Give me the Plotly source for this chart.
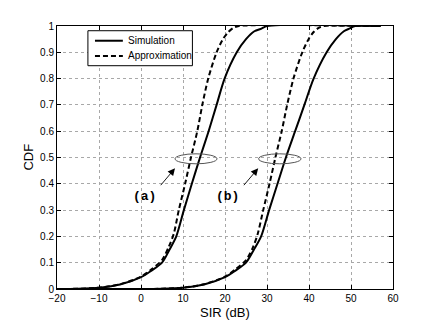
import plotly.graph_objects as go

# SIR (dB) vs CDF
sim_a_x = [-20, -15, -10, -5, 0, 2.5, 5, 6.8, 8.4, 10.2, 12.1, 14.05, 16.1, 18.0, 19.9, 22.8, 25.0, 27.0, 28.7, 30.0, 57]
sim_a_y = [0, 0.001, 0.005, 0.017, 0.045, 0.07, 0.10, 0.15, 0.20, 0.30, 0.40, 0.50, 0.60, 0.70, 0.80, 0.90, 0.95, 0.98, 0.99, 1.0, 1.0]

app_a_x = [-20, -15, -10, -5, 0, 2.5, 5, 6.6, 7.8, 9.0, 10.5, 11.9, 13.4, 14.6, 16.0, 18.0, 19.5, 20.8, 22.0, 23.3, 57]
app_a_y = [0, 0.001, 0.005, 0.018, 0.047, 0.075, 0.11, 0.16, 0.21, 0.30, 0.40, 0.50, 0.60, 0.70, 0.80, 0.90, 0.95, 0.977, 0.993, 1.0, 1.0]

sim_b_x = [-20, 0, 5, 10, 15, 20, 22.5, 25, 26.9, 28.6, 30.5, 32.5, 34.5, 36.7, 38.9, 41.1, 44.2, 46.4, 48.3, 49.6, 51, 57]
sim_b_y = [0, 0, 0.001, 0.005, 0.017, 0.045, 0.07, 0.10, 0.15, 0.20, 0.30, 0.40, 0.50, 0.60, 0.70, 0.80, 0.90, 0.95, 0.98, 0.99, 1.0, 1.0]

app_b_x = [-20, 0, 5, 10, 15, 20, 22.5, 25, 26.7, 27.8, 29.1, 30.6, 32.0, 33.5, 34.8, 36.3, 38.4, 39.9, 41.1, 42.3, 43.5, 57]
app_b_y = [0, 0, 0.001, 0.005, 0.018, 0.047, 0.075, 0.11, 0.16, 0.21, 0.30, 0.40, 0.50, 0.60, 0.70, 0.80, 0.90, 0.95, 0.977, 0.993, 1.0, 1.0]

x_ticks = [-20, -10, 0, 10, 20, 30, 40, 50, 60]
x_tick_text = ['\u221220', '\u221210', '0', '10', '20', '30', '40', '50', '60']
y_ticks = [0, 0.1, 0.2, 0.3, 0.4, 0.5, 0.6, 0.7, 0.8, 0.9, 1]
y_tick_text = ['0', '0.1', '0.2', '0.3', '0.4', '0.5', '0.6', '0.7', '0.8', '0.9', '1']

legend_names = ['Simulation', 'Approximation']

# ellipse marks and labels
ellipses = [(8.1, 18.1, 0.476, 0.514), (28.0, 38.1, 0.476, 0.514)]
labels = ['(a)', '(b)']
label_pos = [(0.8, 0.35), (20.5, 0.35)]
arrow_tail = [(4.4, 0.389), (24.2, 0.389)]
arrow_head = [(8.1, 0.459), (27.9, 0.459)]

font = 'Liberation Sans, Arial, sans-serif'
dash = '5px,3px'

fig = go.Figure()

fig.add_trace(go.Scatter(x=sim_a_x, y=sim_a_y, mode='lines', name=legend_names[0],
                         line=dict(color='black', width=2, shape='spline', smoothing=0.8)))
fig.add_trace(go.Scatter(x=app_a_x, y=app_a_y, mode='lines', name=legend_names[1],
                         line=dict(color='black', width=2, dash=dash, shape='spline', smoothing=0.8)))
fig.add_trace(go.Scatter(x=sim_b_x, y=sim_b_y, mode='lines',
                         line=dict(color='black', width=2, shape='spline', smoothing=0.8)))
fig.add_trace(go.Scatter(x=app_b_x, y=app_b_y, mode='lines',
                         line=dict(color='black', width=2, dash=dash, shape='spline', smoothing=0.8)))

for (x0, x1, y0, y1) in ellipses:
    fig.add_shape(type='circle', xref='x', yref='y', x0=x0, x1=x1, y0=y0, y1=y1,
                  line=dict(color='#555555', width=1))

for txt, (tx, ty), (ax, ay), (hx, hy) in zip(labels, label_pos, arrow_tail, arrow_head):
    fig.add_annotation(x=tx, y=ty, text='<b>' + txt + '</b>', showarrow=False,
                       font=dict(family='Liberation Mono, Courier New, monospace', size=13, color='black'))
    fig.add_annotation(x=hx, y=hy, ax=ax, ay=ay, axref='x', ayref='y', text='',
                       showarrow=True, arrowhead=2, arrowsize=1.6, arrowwidth=0.9, arrowcolor='black')

# legend box drawn by hand (MATLAB style)
fig.add_shape(type='rect', xref='paper', yref='paper', x0=0.092, x1=0.403, y0=0.849, y1=0.982,
              line=dict(color='black', width=1), fillcolor='white', layer='above')
for i, name in enumerate(legend_names):
    yy = 0.944 - i * 0.058
    fig.add_shape(type='line', xref='paper', yref='paper', x0=0.113, x1=0.196, y0=yy, y1=yy,
                  line=dict(color='black', width=2, dash=None if i == 0 else dash), layer='above')
    fig.add_annotation(xref='paper', yref='paper', x=0.204, y=yy, text=name, showarrow=False,
                       xanchor='left', yanchor='middle', font=dict(family=font, size=10, color='black'))

# axis titles
fig.add_annotation(xref='paper', yref='paper', x=0.5, y=-0.088, text='SIR (dB)', showarrow=False,
                   xanchor='center', yanchor='middle', font=dict(family=font, size=13, color='black'))
fig.add_annotation(xref='paper', yref='paper', x=-0.086, y=0.5, text='CDF', showarrow=False,
                   textangle=-90, xanchor='center', yanchor='middle',
                   font=dict(family=font, size=13, color='black'))

axis_common = dict(showline=True, linecolor='black', linewidth=1, mirror='allticks',
                   ticks='inside', ticklen=4, tickcolor='black',
                   showgrid=True, gridcolor='#a8a8a8', griddash='dot', gridwidth=1,
                   zeroline=False, tickfont=dict(family=font, size=10, color='black'))

fig.update_xaxes(range=[-20, 60], tickvals=x_ticks, ticktext=x_tick_text, **axis_common)
fig.update_yaxes(range=[0, 1], tickvals=y_ticks, ticktext=y_tick_text, **axis_common)

fig.update_layout(
    width=427, height=319,
    margin=dict(l=49, r=42, t=16, b=38),
    plot_bgcolor='white', paper_bgcolor='white',
    showlegend=False,
)

fig.write_html('out.html')
